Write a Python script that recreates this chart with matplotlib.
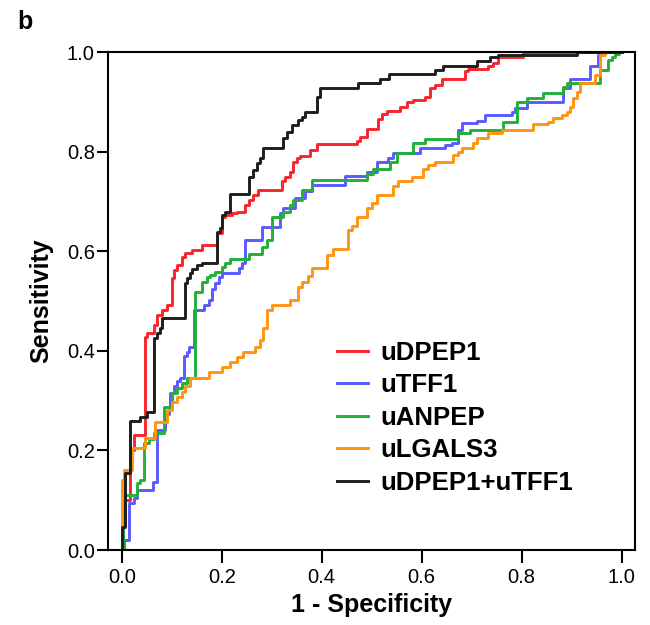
"""ROC curves for urinary biomarkers (panel b)."""

import matplotlib

matplotlib.use("Agg")

import matplotlib.pyplot as plt

plt.rcParams["font.family"] = ["Liberation Sans", "DejaVu Sans"]

# step points: (1 - specificity, sensitivity) after each rise
dpep1_fpr = [0, 0.003, 0.017, 0.024, 0.046, 0.051, 0.064, 0.071, 0.081, 0.091,
             0.1, 0.104, 0.111, 0.121, 0.127, 0.141, 0.161, 0.19, 0.2, 0.207,
             0.221, 0.231, 0.247, 0.254, 0.263, 0.273, 0.32, 0.327, 0.337, 0.343,
             0.35, 0.357, 0.377, 0.39, 0.47, 0.477, 0.49, 0.513, 0.52, 0.53,
             0.557, 0.57, 0.583, 0.607, 0.617, 0.627, 0.64, 0.687, 0.693, 0.733,
             0.743, 0.753, 0.803, 1.0]
dpep1_tpr = [0, 0.1, 0.2, 0.23, 0.428, 0.435, 0.452, 0.472, 0.482, 0.492,
             0.546, 0.562, 0.572, 0.589, 0.596, 0.602, 0.612, 0.637, 0.669, 0.673,
             0.676, 0.679, 0.693, 0.703, 0.713, 0.723, 0.74, 0.75, 0.76, 0.78,
             0.787, 0.791, 0.803, 0.816, 0.822, 0.83, 0.845, 0.866, 0.876, 0.882,
             0.89, 0.9, 0.903, 0.91, 0.927, 0.933, 0.946, 0.962, 0.965, 0.971,
             0.977, 0.989, 1.0, 1.0]

tff1_fpr = [0, 0.004, 0.015, 0.024, 0.03, 0.063, 0.071, 0.087, 0.094, 0.097,
            0.104, 0.111, 0.117, 0.124, 0.13, 0.134, 0.145, 0.164, 0.174, 0.181,
            0.187, 0.194, 0.2, 0.234, 0.241, 0.247, 0.28, 0.317, 0.323, 0.347,
            0.367, 0.38, 0.447, 0.49, 0.51, 0.533, 0.543, 0.597, 0.647, 0.66,
            0.673, 0.68, 0.71, 0.727, 0.78, 0.787, 0.81, 0.883, 0.897, 0.937,
            0.953, 0.96, 1.0]
tff1_tpr = [0, 0.02, 0.094, 0.105, 0.12, 0.137, 0.241, 0.274, 0.288, 0.315,
            0.329, 0.339, 0.345, 0.39, 0.398, 0.408, 0.482, 0.492, 0.502, 0.525,
            0.536, 0.548, 0.557, 0.566, 0.576, 0.622, 0.649, 0.676, 0.686, 0.706,
            0.72, 0.733, 0.751, 0.76, 0.78, 0.787, 0.798, 0.807, 0.813, 0.818,
            0.843, 0.857, 0.862, 0.873, 0.88, 0.887, 0.9, 0.928, 0.945, 0.972,
            0.994, 1.0, 1.0]

anpep_fpr = [0, 0.003, 0.03, 0.037, 0.044, 0.055, 0.065, 0.085, 0.1, 0.111,
             0.121, 0.131, 0.147, 0.161, 0.171, 0.177, 0.187, 0.2, 0.207, 0.217,
             0.254, 0.28, 0.29, 0.3, 0.323, 0.337, 0.343, 0.36, 0.38, 0.49,
             0.503, 0.537, 0.55, 0.583, 0.607, 0.673, 0.697, 0.763, 0.79, 0.81,
             0.843, 0.883, 0.89, 0.957, 0.973, 0.98, 0.987, 0.995, 1.0]
anpep_tpr = [0, 0.11, 0.134, 0.14, 0.214, 0.222, 0.234, 0.288, 0.315, 0.325,
             0.335, 0.345, 0.519, 0.539, 0.548, 0.552, 0.559, 0.569, 0.576, 0.584,
             0.594, 0.609, 0.622, 0.669, 0.678, 0.693, 0.703, 0.723, 0.743, 0.756,
             0.766, 0.78, 0.798, 0.817, 0.825, 0.837, 0.843, 0.86, 0.9, 0.907,
             0.917, 0.93, 0.937, 0.964, 0.984, 0.99, 0.996, 1.0, 1.0]

lgals3_fpr = [0, 0, 0.005, 0.02, 0.046, 0.067, 0.091, 0.1, 0.111, 0.121,
              0.127, 0.137, 0.174, 0.2, 0.217, 0.23, 0.243, 0.267, 0.277, 0.283,
              0.29, 0.3, 0.337, 0.353, 0.36, 0.373, 0.38, 0.41, 0.423, 0.453,
              0.46, 0.47, 0.49, 0.5, 0.51, 0.543, 0.553, 0.58, 0.603, 0.613,
              0.627, 0.663, 0.673, 0.68, 0.703, 0.71, 0.733, 0.76, 0.823, 0.853,
              0.863, 0.88, 0.89, 0.897, 0.903, 0.91, 0.917, 0.947, 0.957, 0.967,
              1.0]
lgals3_tpr = [0, 0.14, 0.16, 0.204, 0.224, 0.258, 0.281, 0.298, 0.308, 0.318,
              0.33, 0.345, 0.358, 0.368, 0.378, 0.388, 0.398, 0.408, 0.422, 0.445,
              0.482, 0.492, 0.502, 0.529, 0.539, 0.55, 0.566, 0.592, 0.604, 0.643,
              0.65, 0.669, 0.686, 0.696, 0.713, 0.73, 0.74, 0.75, 0.766, 0.773,
              0.78, 0.793, 0.8, 0.807, 0.817, 0.827, 0.837, 0.843, 0.855, 0.86,
              0.867, 0.873, 0.88, 0.89, 0.907, 0.92, 0.937, 0.954, 0.994, 1.0,
              1.0]

combo_fpr = [0, 0, 0.007, 0.016, 0.037, 0.05, 0.065, 0.07, 0.077, 0.08,
             0.127, 0.13, 0.137, 0.14, 0.15, 0.16, 0.19, 0.197, 0.2, 0.207,
             0.217, 0.254, 0.263, 0.27, 0.277, 0.283, 0.323, 0.33, 0.34, 0.353,
             0.36, 0.367, 0.39, 0.397, 0.473, 0.517, 0.535, 0.627, 0.643, 0.71,
             0.737, 0.753, 0.91, 1.0]
combo_tpr = [0, 0.047, 0.155, 0.26, 0.268, 0.278, 0.425, 0.435, 0.445, 0.465,
             0.536, 0.546, 0.556, 0.564, 0.572, 0.577, 0.639, 0.646, 0.673, 0.679,
             0.715, 0.75, 0.763, 0.777, 0.787, 0.808, 0.827, 0.84, 0.853, 0.863,
             0.87, 0.88, 0.91, 0.927, 0.937, 0.946, 0.956, 0.964, 0.972, 0.982,
             0.989, 0.994, 1.0, 1.0]

labels = ["uDPEP1", "uTFF1", "uANPEP", "uLGALS3", "uDPEP1+uTFF1"]
curves = [
    (dpep1_fpr, dpep1_tpr),
    (tff1_fpr, tff1_tpr),
    (anpep_fpr, anpep_tpr),
    (lgals3_fpr, lgals3_tpr),
    (combo_fpr, combo_tpr),
]
colors = ["#f7262c", "#5a5aff", "#22b03a", "#ff9412", "#1e1e1e"]
ticks = [0.0, 0.2, 0.4, 0.6, 0.8, 1.0]
tick_labels = ["0.0", "0.2", "0.4", "0.6", "0.8", "1.0"]

fig = plt.figure(figsize=(6.5, 6.25), dpi=100)
ax = fig.add_axes([108 / 650, 1 - 550 / 625, 527 / 650, 498 / 625])

for (fpr, tpr), label, color in zip(curves, labels, colors):
    ax.plot(fpr, tpr, drawstyle="steps-post", color=color, lw=2.1, label=label)

ax.set_xlim(-0.0274, 1.0266)
ax.set_ylim(0, 1)
ax.set_xticks(ticks, tick_labels)
ax.set_yticks(ticks, tick_labels)
ax.tick_params(axis="both", labelsize=14.5, width=1.5, color="black")
ax.tick_params(axis="x", length=9, pad=4)
ax.tick_params(axis="y", length=8, pad=1.5)
for spine in ax.spines.values():
    spine.set_linewidth(1.5)

ax.set_xlabel("1 - Specificity", fontsize=18, fontweight="bold", labelpad=4)
ax.set_ylabel("Sensitivity", fontsize=18, fontweight="bold", labelpad=10)

ax.legend(
    loc="upper left",
    bbox_to_anchor=(0.4345, 0.42),
    frameon=False,
    prop={"weight": "bold", "size": 18.5},
    handlelength=1.2,
    handletextpad=0.5,
    labelspacing=0.33,
    borderpad=0,
    borderaxespad=0,
)

fig.text(17 / 650, 1 - 29 / 625, "b", fontsize=18, fontweight="bold",
         ha="left", va="baseline")

fig.savefig("out.png", dpi=100)
